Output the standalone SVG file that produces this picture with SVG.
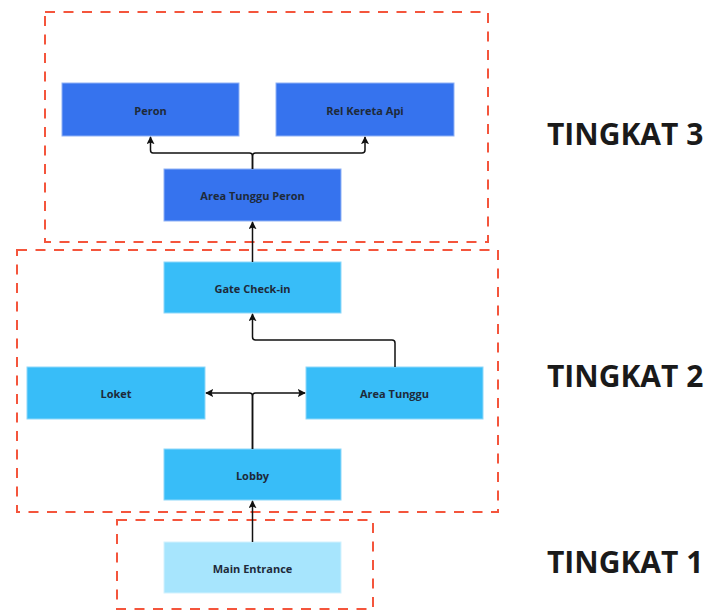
<svg xmlns="http://www.w3.org/2000/svg" width="705" height="610" viewBox="0 0 705 610">
  <style>
    .zone { fill: none; stroke: #F4553C; stroke-width: 2; stroke-dasharray: 10 8.5; }
    .t3 { fill: #3673EE; stroke: #8FB2F6; stroke-width: 1; }
    .t2 { fill: #38BDF8; stroke: #8ED8FA; stroke-width: 1; }
    .t1 { fill: #A7E5FD; stroke: #D3F2FE; stroke-width: 1; }
    .lbl { font-family: "Open Sans", "Noto Sans", sans-serif; font-weight: 700; font-size: 11px; fill: #1E2A3A; text-anchor: middle; dominant-baseline: central; }
    .tier { font-family: "Open Sans", "Noto Sans", sans-serif; font-weight: 700; font-size: 30px; fill: #1A1A1A; }
    .wire { fill: none; stroke: #111; stroke-width: 1.5; stroke-linejoin: round; }
  </style>
  <defs>
    <marker id="arrow" viewBox="0 0 10 10" refX="9" refY="5" markerWidth="8" markerHeight="8" markerUnits="userSpaceOnUse" orient="auto">
      <path d="M0,0 L10,5 L0,10 L2,5 z" fill="#111"/>
    </marker>
  </defs>

  <!-- level zones -->
  <g id="zones">
    <rect class="zone" x="45" y="12" width="443" height="230"/>
    <rect class="zone" x="17" y="250" width="481" height="262"/>
    <rect class="zone" x="117" y="520" width="256" height="89"/>
  </g>

  <!-- level 3 -->
  <g id="peron"><rect class="t3" x="62" y="83" width="177" height="53"/><text class="lbl" x="150.5" y="110">Peron</text></g>
  <g id="rel-kereta-api"><rect class="t3" x="276" y="83" width="178" height="53"/><text class="lbl" x="365" y="110">Rel Kereta Api</text></g>
  <g id="area-tunggu-peron"><rect class="t3" x="164" y="169" width="177" height="52"/><text class="lbl" x="252.5" y="195.5">Area Tunggu Peron</text></g>

  <!-- level 2 -->
  <g id="gate-check-in"><rect class="t2" x="164" y="262" width="177" height="51"/><text class="lbl" x="252.5" y="288">Gate Check-in</text></g>
  <g id="loket"><rect class="t2" x="27" y="367" width="178" height="52"/><text class="lbl" x="116" y="393">Loket</text></g>
  <g id="area-tunggu"><rect class="t2" x="306" y="367" width="177" height="52"/><text class="lbl" x="394.5" y="393">Area Tunggu</text></g>
  <g id="lobby"><rect class="t2" x="164" y="449" width="177" height="51"/><text class="lbl" x="252.5" y="475">Lobby</text></g>

  <!-- level 1 -->
  <g id="main-entrance"><rect class="t1" x="164" y="542" width="177" height="51"/><text class="lbl" x="252.5" y="568">Main Entrance</text></g>

  <!-- connectors -->
  <g id="connectors">
    <path class="wire" d="M252.5,542 V501" marker-end="url(#arrow)"/>
    <path class="wire" d="M252.5,449 V396 Q252.5,393 249.5,393 H206" marker-end="url(#arrow)"/>
    <path class="wire" d="M252.5,449 V396 Q252.5,393 255.5,393 H305" marker-end="url(#arrow)"/>
    <path class="wire" d="M395,367 V343 Q395,340 392,340 H255.5 Q252.5,340 252.5,337 V314" marker-end="url(#arrow)"/>
    <path class="wire" d="M252.5,262 V222" marker-end="url(#arrow)"/>
    <path class="wire" d="M252.5,169 V156 Q252.5,153 249.5,153 H153 Q150.5,153 150.5,150 V137" marker-end="url(#arrow)"/>
    <path class="wire" d="M252.5,169 V156 Q252.5,153 255.5,153 H362 Q365,153 365,150 V137" marker-end="url(#arrow)"/>
  </g>

  <!-- level captions -->
  <g id="captions">
    <text class="tier" x="547" y="145">TINGKAT 3</text>
    <text class="tier" x="547" y="387">TINGKAT 2</text>
    <text class="tier" x="547" y="573">TINGKAT 1</text>
  </g>
</svg>
